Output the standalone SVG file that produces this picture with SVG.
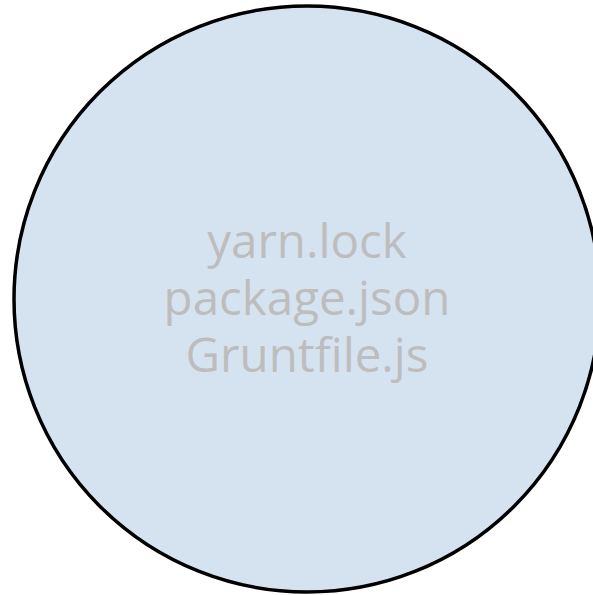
<svg xmlns="http://www.w3.org/2000/svg" width="593" height="595" viewBox="0 0 593 595">
<style>
.node{fill:#d5e3f1;stroke:#000;stroke-width:3.5}
.lbl{font-family:"Open Sans",sans-serif;font-size:47.5px;fill:#bdbdbd;text-anchor:middle}
</style>
<rect width="593" height="595" fill="#fff"/>
<g id="node1">
<circle class="node" cx="307" cy="299" r="293"/>
<text class="lbl" x="307" y="258">yarn.lock</text>
<text class="lbl" x="307" y="315">package.json</text>
<text class="lbl" x="307" y="372">Gruntfile.js</text>
</g>
<g id="connectors"></g>
</svg>
